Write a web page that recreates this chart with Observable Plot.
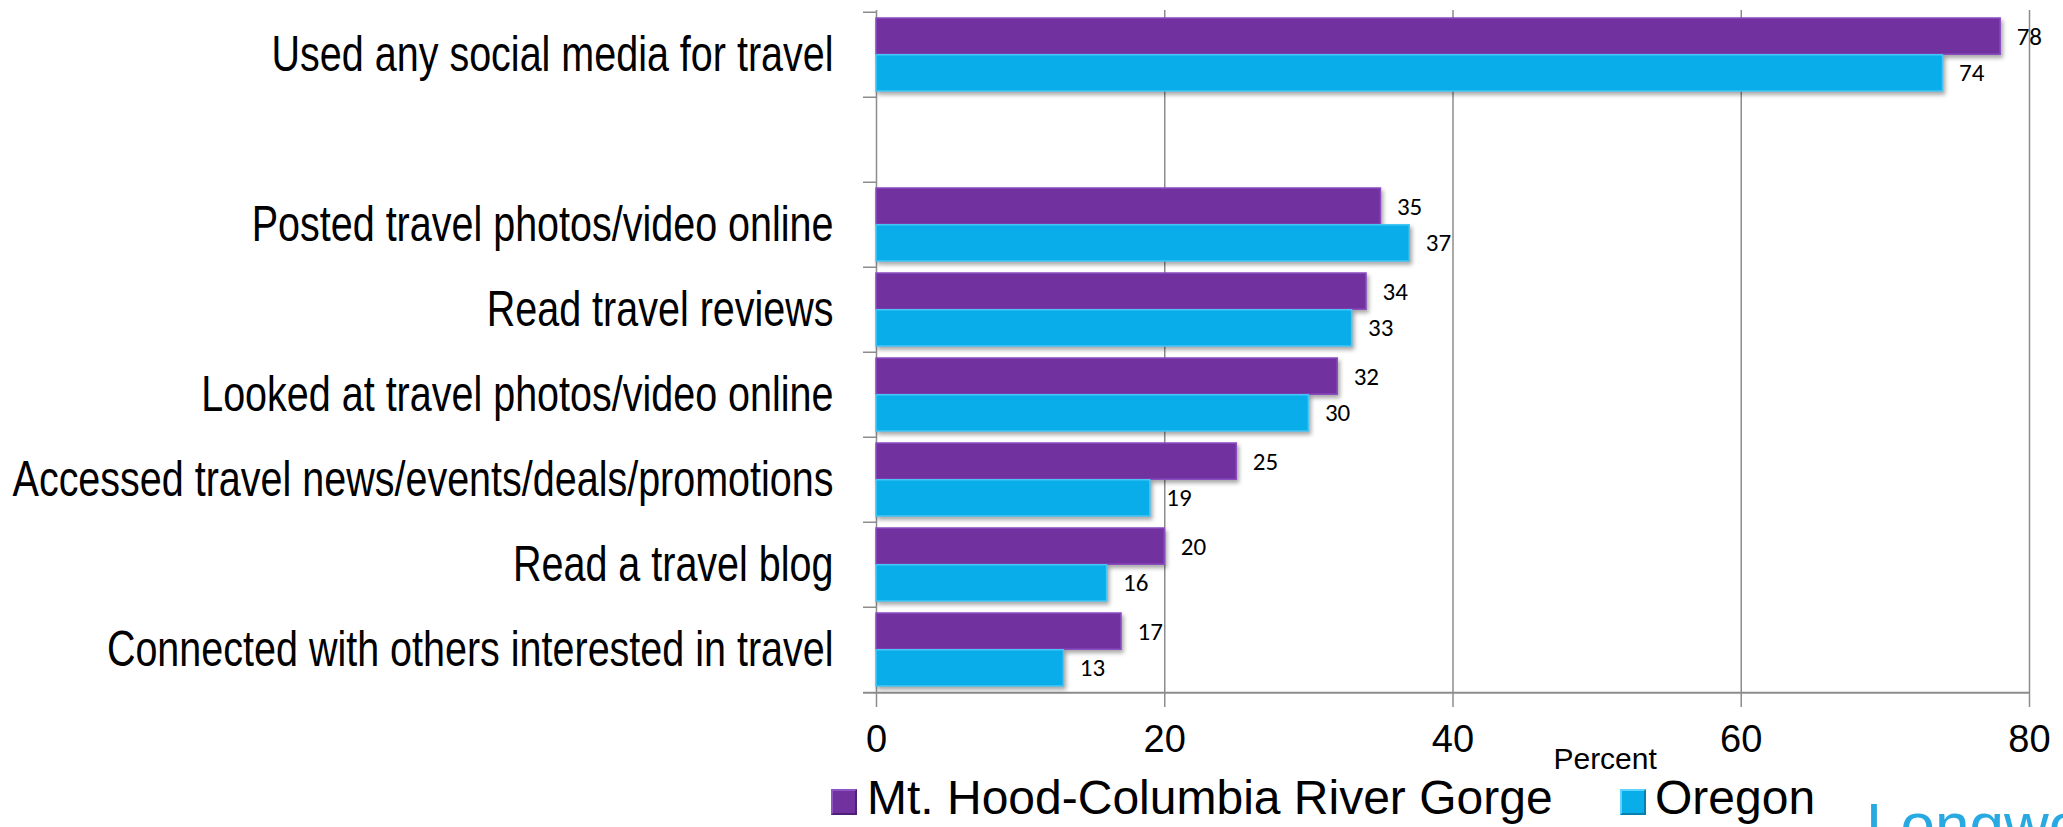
<!DOCTYPE html>
<html><head><meta charset="utf-8">
<script src="https://cdn.jsdelivr.net/npm/d3@7"></script>
<script src="https://cdn.jsdelivr.net/npm/@observablehq/plot@0.6"></script>
<style>
html,body{margin:0;padding:0;background:#fff;width:2063px;height:827px;overflow:hidden;}
#wrap{position:relative;width:2063px;height:827px;}
#chart{position:absolute;left:0;top:0;}
.leg{position:absolute;font-family:"Liberation Sans",Arial,sans-serif;font-size:48px;color:#000;white-space:nowrap;line-height:1;}
.sw{position:absolute;width:26px;height:26px;box-sizing:border-box;border-style:solid;border-width:2px;}
.logo{position:absolute;font-family:"Liberation Sans",Arial,sans-serif;font-size:62px;color:#29A9E1;white-space:nowrap;line-height:1;}
</style></head><body><div id="wrap"><div id="chart"></div>
<div class="sw" style="left:831px;top:789px;background:#7132A0;border-color:#8f55c4 #4f1f78 #4f1f78 #8f55c4;"></div>
<div class="leg" style="left:867px;top:774px;">Mt. Hood-Columbia River Gorge</div>
<div class="sw" style="left:1620px;top:789px;background:#09ADE9;border-color:#5fd3ff #0780ad #0780ad #5fd3ff;"></div>
<div class="leg" style="left:1655px;top:774px;">Oregon</div>
<div class="logo" style="left:1866px;top:794px;">Longwoods</div>
</div>
<script>
const categories = [
  "Used any social media for travel",
  " ",
  "Posted travel photos/video online",
  "Read travel reviews",
  "Looked at travel photos/video online",
  "Accessed travel news/events/deals/promotions",
  "Read a travel blog",
  "Connected with others interested in travel"
];
const seriesNames = ["Mt. Hood-Columbia River Gorge", "Oregon"];
const mtHood = [78, null, 35, 34, 32, 25, 20, 17];
const oregon = [74, null, 37, 33, 30, 19, 16, 13];
const xTicks = [0, 20, 40, 60, 80];
const gridTicks = [20, 40, 60, 80];
const xLabel = "Percent";
const colors = ["#7132A0", "#09ADE9"];
const strokes = ["#8a4cc0", "#45c6f5"];

const mtRows = categories.map((c, i) => ({cat: c, series: seriesNames[0], value: mtHood[i]})).filter(d => d.value != null);
const orRows = categories.map((c, i) => ({cat: c, series: seriesNames[1], value: oregon[i]})).filter(d => d.value != null);

const W = 2063, H = 780;
const mTop = 10, mBottom = 86, mLeft = 876, mRight = 34;
const step = (H - mTop - mBottom) / categories.length;
const bw = step * (1 - 0.14);
const grey = "#8c8c8c";

const plot = Plot.plot({
  width: W, height: H,
  marginTop: mTop, marginBottom: mBottom, marginLeft: mLeft, marginRight: mRight,
  style: {fontFamily: "'Liberation Sans', Arial, sans-serif", background: "#fff", color: "#000"},
  x: {domain: [0, 80]},
  y: {domain: categories, paddingInner: 0.14, paddingOuter: 0.07, align: 0.5},
  marks: [
    Plot.ruleX(gridTicks, {stroke: grey, strokeWidth: 1.5}),
    Plot.ruleX([0], {stroke: grey, strokeWidth: 1.5}),
    Plot.ruleY(categories, {y: d => d, x1: 0, x2: 0, insetLeft: -13, dy: -step / 2, stroke: grey, strokeWidth: 1.5}),
    Plot.ruleY([categories[categories.length - 1]], {y: d => d, x1: 0, x2: 80, insetLeft: -13, dy: step / 2, stroke: grey, strokeWidth: 2}),
    Plot.axisX({ticks: xTicks, tickSize: 13, tickPadding: 18, fontSize: 38, stroke: grey, strokeWidth: 1.5, label: null}),
    Plot.axisY({tickSize: 0, tickPadding: 43, fontSize: 50, label: null}),
    Plot.barX(mtRows, {x: "value", y: "cat", fill: colors[0], stroke: strokes[0], strokeWidth: 1.5, insetBottom: bw / 2}),
    Plot.barX(orRows, {x: "value", y: "cat", fill: colors[1], stroke: strokes[1], strokeWidth: 1.5, insetTop: bw / 2}),
    Plot.text(mtRows, {x: "value", y: "cat", text: d => String(d.value), dy: -bw / 4, dx: 16, textAnchor: "start", fontSize: 25, fontFamily: "Carlito, Lato, 'Open Sans', sans-serif", fill: "#000"}),
    Plot.text(orRows, {x: "value", y: "cat", text: d => String(d.value), dy: bw / 4, dx: 16, textAnchor: "start", fontSize: 25, fontFamily: "Carlito, Lato, 'Open Sans', sans-serif", fill: "#000"}),
    Plot.text([xLabel], {x: () => 50, frameAnchor: "bottom", text: d => d, dx: 8, dy: 65, lineAnchor: "middle", fontSize: 30, fill: "#000"})
  ]
});
document.getElementById("chart").appendChild(plot);

plot.querySelectorAll('g[aria-label="y-axis tick label"] text').forEach(t => {
  t.setAttribute("transform", (t.getAttribute("transform") || "") + " scale(0.79,1)");
});
plot.querySelectorAll('g[aria-label="bar"]').forEach(g => {
  g.style.filter = "drop-shadow(2px 3px 2px rgba(0,0,0,0.35))";
});
</script></body></html>
